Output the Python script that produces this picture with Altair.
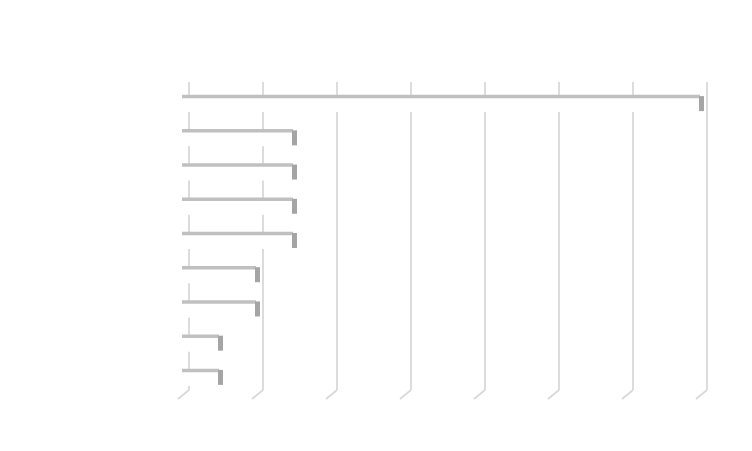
import altair as alt
import pandas as pd

categories = ["c1", "c2", "c3", "c4", "c5", "c6", "c7", "c8", "c9"]
values = [7, 1.5, 1.5, 1.5, 1.5, 1, 1, 0.5, 0.5]
ticks = [0, 1, 2, 3, 4, 5, 6, 7]

bars = pd.DataFrame({"cat": categories, "value": values})
grid = pd.DataFrame({"k": ticks})

xs = alt.Scale(domain=[0, 7], nice=False, zero=True)
ys = alt.Scale(domain=categories, paddingInner=0, paddingOuter=0)

X = alt.X("value:Q", scale=xs, axis=None)
Y = alt.Y("cat:N", scale=ys, axis=None, sort=categories)

gline = alt.Chart(grid).mark_rule(color="#d9d9d9", strokeWidth=1.8, xOffset=7).encode(
    x=alt.X("k:Q", scale=xs, axis=None),
    y=alt.value(-6),
    y2=alt.value(302),
)
gdiag = alt.Chart(grid).mark_rule(color="#d9d9d9", strokeWidth=1.8, xOffset=7, x2Offset=-4).encode(
    x=alt.X("k:Q", scale=xs, axis=None),
    x2="k:Q",
    y=alt.value(302),
    y2=alt.value(311),
)

front = alt.Chart(bars).mark_bar(color="white", size=15, yOffset=-0.5).encode(x=X, y=Y)
top = alt.Chart(bars).mark_bar(color="#c0c0c0", size=3.5, yOffset=-8.5, x2Offset=1).encode(x=X, y=Y)
side = alt.Chart(bars).mark_rect(color="#a5a5a5", yOffset=-1.5, height=15, xOffset=-1, x2Offset=4).encode(
    x=X, x2="value:Q", y=Y
)

chart = alt.layer(gline, gdiag, front, top, side).properties(
    width=518,
    height=308,
    autosize=alt.AutoSizeParams(type="none"),
    padding={"left": 174, "top": 80, "right": 44, "bottom": 47},
).configure_view(strokeWidth=0)

chart.save("out.html", embed_options={"renderer": "svg", "actions": False})
